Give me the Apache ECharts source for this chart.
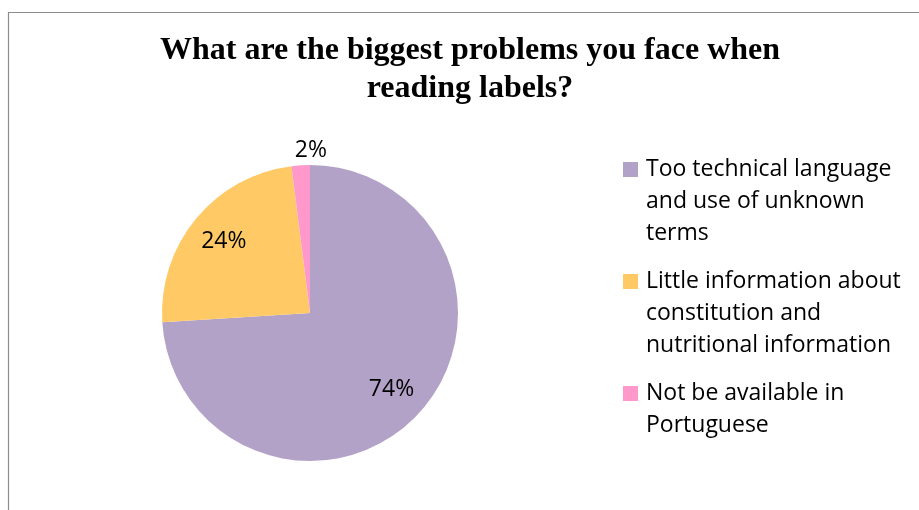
<!DOCTYPE html>
<html>
<head>
<meta charset="utf-8">
<title>What are the biggest problems you face when reading labels?</title>
<script src="https://cdn.jsdelivr.net/npm/echarts@6/dist/echarts.min.js"></script>
<style>
  html, body { margin: 0; padding: 0; background: #ffffff; }
  #chart { width: 919px; height: 510px; }
</style>
</head>
<body>
<div id="chart"></div>
<script>
// Survey answers (percent of respondents)
const categories = [
  'Too technical language\nand use of unknown\nterms',
  'Little information about\nconstitution and\nnutritional information',
  'Not be available in\nPortuguese'
];
const shares = [74, 24, 2];
const sliceColors = ['#B3A2C7', '#FFCA66', '#FF99CC'];
const chartTitle = 'What are the biggest problems you face when\nreading labels?';

const FONT = 'Open Sans';
const FONT_SIZE = 23;
const CENTER = [310, 313];
const RADIUS = 148;
const LINE_H = 32;

const visibleData = categories.map((name, i) => ({
  name: name,
  value: shares[i],
  itemStyle: { color: sliceColors[i] },
  // only the thin slice carries its label outside the pie
  label: { show: i === 2 }
}));

// Big slices carry their label inside, placed by a wider transparent ring
const labelData = categories.map((name, i) => ({
  name: name,
  value: shares[i],
  label: { show: i < 2 }
}));

// Every legend entry is padded to the same block height, with its
// first line in the middle so that line sits level with the swatch
const maxLines = Math.max.apply(null, categories.map((c) => c.split('\n').length));
function legendText(name) {
  const lines = name.split('\n').length;
  const before = maxLines - 1;
  const after = 2 * (maxLines - 1) + 1 - before - lines;
  return '\n'.repeat(before) + name + '\n '.repeat(after);
}

const chart = echarts.init(document.getElementById('chart'), null, { renderer: 'canvas' });

chart.setOption({
  backgroundColor: '#ffffff',
  animation: false,
  title: {
    text: chartTitle,
    left: 470,
    top: 32,
    padding: 0,
    textAlign: 'center',
    textStyle: {
      fontFamily: 'Liberation Serif',
      fontWeight: 'bold',
      fontSize: 32,
      lineHeight: 38,
      color: '#000000'
    }
  },
  legend: {
    orient: 'vertical',
    left: 623,
    top: 89.5,
    padding: 0,
    itemGap: -48,
    itemWidth: 15,
    itemHeight: 15,
    icon: 'rect',
    selectedMode: false,
    data: categories,
    formatter: legendText,
    textStyle: {
      fontFamily: FONT,
      fontSize: FONT_SIZE,
      lineHeight: LINE_H,
      color: '#000000',
      padding: [0, 0, 0, 3]
    }
  },
  graphic: [{
    type: 'rect',
    silent: true,
    z: -1,
    shape: { x: 8.5, y: 12.5, width: 1000, height: 600 },
    style: { fill: null, stroke: '#8c8c8c', lineWidth: 1.2 }
  }],
  series: [
    {
      type: 'pie',
      center: CENTER,
      radius: RADIUS,
      startAngle: 90,
      clockwise: true,
      avoidLabelOverlap: false,
      silent: true,
      data: visibleData,
      label: {
        position: 'outside',
        formatter: '{c}%',
        fontFamily: FONT,
        fontSize: FONT_SIZE,
        color: '#000000'
      },
      labelLine: { show: false, length: 15, length2: 0 },
      labelLayout: function (p) {
        return p.dataIndex === 2 ? { align: 'left' } : {};
      }
    },
    {
      // transparent ring that positions the inner percentage labels
      type: 'pie',
      center: CENTER,
      radius: [0, RADIUS * 1.47],
      startAngle: 90,
      clockwise: true,
      silent: true,
      avoidLabelOverlap: false,
      itemStyle: { color: 'rgba(0,0,0,0)' },
      data: labelData,
      label: {
        position: 'inside',
        formatter: '{c}%',
        fontFamily: FONT,
        fontSize: FONT_SIZE,
        color: '#000000'
      },
      labelLine: { show: false }
    }
  ]
});
</script>
</body>
</html>
